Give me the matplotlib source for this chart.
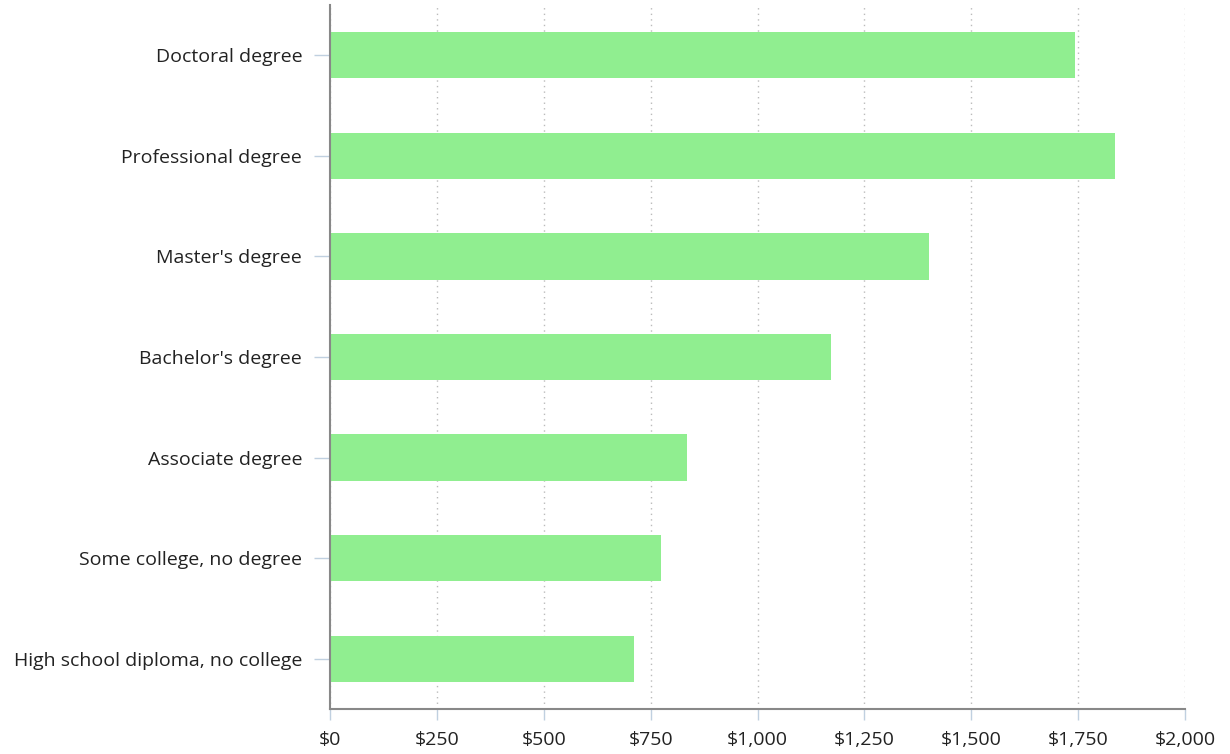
import numpy as np
import matplotlib.pyplot as plt
from matplotlib.ticker import FuncFormatter

categories = ['Doctoral degree', 'Professional degree', "Master's degree", "Bachelor's degree",
              'Associate degree', 'Some college, no degree', 'High school diploma, no college']
earnings = [1743, 1836, 1401, 1173, 836, 774, 712]
xticks = [0, 250, 500, 750, 1000, 1250, 1500, 1750, 2000]

plt.rcParams['font.family'] = ['Open Sans', 'DejaVu Sans']

fig = plt.figure(figsize=(12.3, 7.54), dpi=100)
ax = fig.add_axes([330/1230, 45/754, 855/1230, 704/754])

y = np.arange(len(categories))[::-1]
ax.barh(y, earnings, height=0.46, color='#90ee90', zorder=2)

ax.set_xlim(0, 2000)
ax.set_ylim(-0.5, len(categories) - 0.5)
ax.set_yticks(y)
ax.set_yticklabels(categories)
ax.set_xticks(xticks)
ax.xaxis.set_major_formatter(FuncFormatter(lambda v, p: '${:,.0f}'.format(v)))

ax.grid(axis='x', linestyle=(0, (1, 3)), color='#bbbbbb', linewidth=1, zorder=0)
for s in ['top', 'right']:
    ax.spines[s].set_visible(False)
for s in ['left', 'bottom']:
    ax.spines[s].set_color('#888888')
    ax.spines[s].set_linewidth(1.5)

ax.tick_params(axis='both', colors='#c0d0e0', labelcolor='#222222', labelsize=14, width=1)
ax.tick_params(axis='x', length=8, pad=8)
ax.tick_params(axis='y', length=11.5, pad=8.5)

plt.savefig('out.png')
